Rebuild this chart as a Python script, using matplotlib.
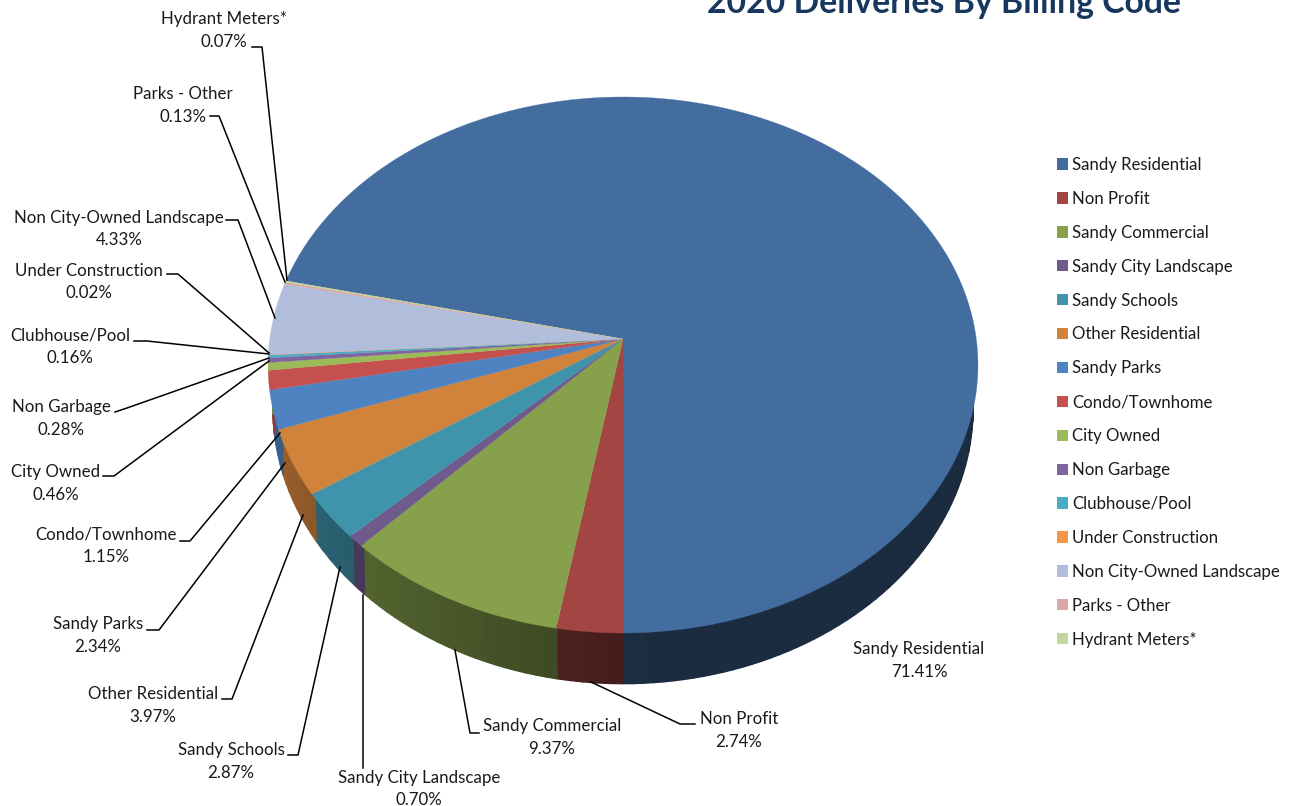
import numpy as np
import matplotlib
matplotlib.use("Agg")
import matplotlib.pyplot as plt
from matplotlib.patches import Patch, Polygon
from matplotlib.collections import PolyCollection
from matplotlib.colors import to_rgb

plt.rcParams['font.family'] = ['Lato', 'DejaVu Sans']

# --- data ---
categorias = ["Sandy Residential", "Non Profit", "Sandy Commercial", "Sandy City Landscape",
              "Sandy Schools", "Other Residential", "Sandy Parks", "Condo/Townhome",
              "City Owned", "Non Garbage", "Clubhouse/Pool", "Under Construction",
              "Non City-Owned Landscape", "Parks - Other", "Hydrant Meters*"]
percentuais = [71.41, 2.74, 9.37, 0.70, 2.87, 3.97, 2.34, 1.15,
               0.46, 0.28, 0.16, 0.02, 4.33, 0.13, 0.07]
cores = ["#436c9f", "#a34543", "#86a04c", "#6f5a8c", "#3f93aa", "#d1823b", "#4f82c0", "#c5514f",
         "#9bbb59", "#8064a2", "#4bacc6", "#f79646", "#b0bedc", "#d9a9a7", "#c3d69b"]
titulo = "2020 Deliveries By Billing Code"

# --- layout (pixel coordinates) ---
pos_rotulos = [(919, 660.5), (739, 730.5), (552, 737.5), (419, 789), (231, 761.5),
               (153, 705.5), (98, 635.5), (106, 545.5), (56, 483.5), (61, 418.5),
               (70, 347), (89, 282), (119, 229), (183, 105.5), (224, 30.5)]
guias = [None,
         [(695, 724), (680, 724), (591, 682)],
         [(479, 733), (470, 733), (455, 650)],
         [(363, 768), (363, 595)],
         [(288, 755), (298, 755), (340, 567)],
         [(222, 699), (232, 699), (303, 515)],
         [(147, 630), (159, 630), (285, 463)],
         [(180, 541), (190, 541), (280, 433)],
         [(103, 476), (114, 476), (269, 361)],
         [(115, 412), (127, 408), (269, 358)],
         [(134, 341), (147, 341), (269, 354)],
         [(167, 274), (178, 274), (269, 353)],
         [(226, 220), (238, 220), (275, 318)],
         [(210, 116), (219, 116), (285, 282)],
         [(252, 47), (262, 47), (287, 280)]]

fig = plt.figure(figsize=(12.9, 8.06), dpi=100)
ax = fig.add_axes([0, 0, 1, 1])
ax.set_xlim(0, 1290)
ax.set_ylim(806, 0)
ax.axis("off")

# perspective of the tilted disc
K = 0.097
CX = 623


def projeta(phi, bx, ay, y0):
    u = -np.sin(phi)
    v = np.cos(phi)
    w = 1 - K * v
    return CX + bx * u / w, y0 + ay * v / w


def topo(phi):
    return projeta(phi, 353.3, 265.5, 339)


def base(phi):
    return projeta(phi, 348.4, 272.4, 382)


def sombra(phi):
    p = (np.degrees(phi) + 180) % 360 - 180
    return np.interp(p, [-180, -5, 0, 45, 70, 110], [0.40, 0.40, 0.42, 0.63, 0.72, 0.75])


fracoes = np.array(percentuais) / 100
inicio = -2 * np.pi * fracoes[0]
limites = inicio + 2 * np.pi * np.concatenate([[0], np.cumsum(fracoes)])

# sides first, the upper edge sits just inside the rim so the top face hides it
for i, cor in enumerate(cores):
    n = max(3, int(np.degrees(limites[i + 1] - limites[i]) / 1.5))
    phi = np.linspace(limites[i], limites[i + 1], n)
    xt, yt = projeta(phi, 353.3 * 0.99, 265.5 * 0.99, 339)
    xb, yb = base(phi)
    quads = []
    tons = []
    for j in range(n - 1):
        meio = (phi[j] + phi[j + 1]) / 2
        if np.cos(meio) < 0:
            continue
        quads.append([(xt[j], yt[j]), (xt[j + 1], yt[j + 1]), (xb[j + 1], yb[j + 1]), (xb[j], yb[j])])
        tons.append(np.array(to_rgb(cor)) * sombra(meio))
    if quads:
        ax.add_collection(PolyCollection(quads, facecolors=tons, edgecolors=tons, linewidths=1.0, zorder=1))

# top face
for i, cor in enumerate(cores):
    n = max(3, int(np.degrees(limites[i + 1] - limites[i]) * 2))
    phi = np.linspace(limites[i], limites[i + 1], n)
    xt, yt = topo(phi)
    pts = [(CX, 339)] + list(zip(xt, yt))
    ax.add_patch(Polygon(pts, closed=True, facecolor=cor, edgecolor=cor, linewidth=0.2, zorder=2))

# labels and leader lines
for nome, pct, pos, guia in zip(categorias, percentuais, pos_rotulos, guias):
    ax.text(pos[0], pos[1], f"{nome}\n{pct:.2f}%", ha="center", va="center",
            fontsize=12.2, linespacing=1.5, color="#1a1a1a", zorder=4)
    if guia:
        xs, ys = zip(*guia)
        ax.plot(xs, ys, color="black", lw=1.1, zorder=3)

ax.text(944, 13, titulo, ha="center", va="baseline", fontsize=24.3, fontweight="bold",
        color="#17375e", clip_on=False)

alcas = [Patch(facecolor=c, edgecolor="none", label=n) for c, n in zip(cores, categorias)]
ax.legend(handles=alcas, loc="upper left", bbox_to_anchor=(1057, 157), bbox_transform=ax.transData,
          frameon=False, fontsize=12.1, handlelength=0.66, handleheight=0.66, handletextpad=0.24,
          labelspacing=1.065, borderpad=0, borderaxespad=0, labelcolor="#1a1a1a")

fig.savefig("out.png", dpi=100)
